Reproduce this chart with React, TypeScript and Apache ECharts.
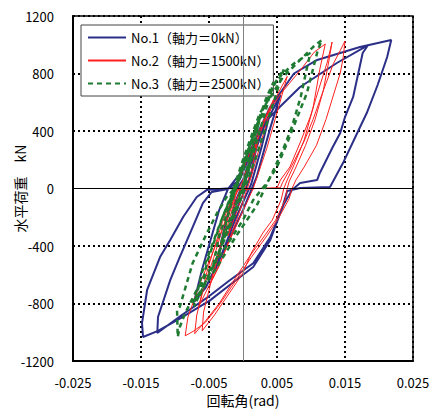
import React, { useEffect, useRef } from "react";
import * as echarts from "echarts";

const FONT = "'Noto Sans CJK JP', 'Noto Sans', sans-serif";

const seriesNames = ["No.1（軸力＝0kN）", "No.2（軸力＝1500kN）", "No.3（軸力＝2500kN）"];
const seriesColors = ["#2b2f88", "#ff2020", "#1f7a32"];

const xTicks = [-0.025, -0.015, -0.005, 0.005, 0.015, 0.025];
const yTicks = [-1200, -800, -400, 0, 400, 800, 1200];

// No.1 (rad, kN)
const no1Points: number[][] = [
  [0, 0],
  [0.001, 150], [0.002, 290], [0.0012, 100], [0.0004, 0], [-0.001, -150], [-0.002, -300], [-0.0012, -100], [-0.0003, 0],
  [0.0015, 220], [0.003, 420], [0.004, 530], [0.0028, 300], [0.0012, 30], [-0.001, -200], [-0.003, -440], [-0.004, -560], [-0.003, -330], [-0.0015, -40], [0, 60],
  [0.0015, 260], [0.003, 420], [0.0055, 650], [0.004, 420], [0.002, 80], [0, -150], [-0.003, -450], [-0.0055, -690], [-0.0072, -790], [-0.006, -560], [-0.0035, -150], [-0.0022, -3],
  [-0.0005, 100], [0.001, 260], [0.003, 450], [0.0054, 567], [0.0084, 706], [0.0138, 873], [0.0184, 998],
  [0.0176, 943], [0.0162, 637], [0.015, 497], [0.0143, 386], [0.0132, 289], [0.0113, 108], [0.0109, 59], [0.0084, 38], [0.0072, -10],
  [0.006, -110], [0.004, -340], [0.0015, -520], [-0.002, -640], [-0.005, -750], [-0.009, -880], [-0.0126, -1005],
  [-0.0125, -894], [-0.0107, -637], [-0.0093, -477], [-0.0074, -268], [-0.0059, -101], [-0.0046, -24], [-0.0022, -3],
  [-0.0005, 60], [0.001, 230], [0.0025, 420], [0.004, 567], [0.0075, 800], [0.0109, 894], [0.0172, 984], [0.0218, 1033],
  [0.0212, 915], [0.0198, 720], [0.0182, 525], [0.0168, 386], [0.0147, 177], [0.0128, 10], [0.0084, 3], [0.0065, -17],
  [0.0058, -130], [0.004, -360], [0.0015, -546], [-0.0019, -670], [-0.0049, -780], [-0.0093, -905], [-0.0125, -990], [-0.0147, -1033],
  [-0.01485, -936], [-0.0141, -706], [-0.0122, -477], [-0.0107, -358], [-0.0088, -198], [-0.0068, -59], [-0.0053, -10], [-0.0015, 3], [0, 0],
];

// No.2
const no2Points: number[][] = [
  [0, 0],
  [0.001, 170], [0.0022, 330], [0.0012, 120], [0.0003, 0], [-0.001, -170], [-0.0022, -330], [-0.0012, -110], [-0.0003, 0],
  [0.0015, 250], [0.0035, 520], [0.0045, 620], [0.003, 380], [0.0012, 80], [-0.001, -230], [-0.0035, -540], [-0.0048, -660], [-0.0035, -420], [-0.0015, -90], [0, 60],
  [0.002, 330], [0.004, 560], [0.0065, 780], [0.0052, 560], [0.0035, 280], [0.0015, 0], [-0.001, -260], [-0.004, -580], [-0.0065, -820], [-0.0052, -560], [-0.003, -230], [-0.001, 0],
  [0.001, 250], [0.003, 470], [0.0054, 650], [0.0088, 845], [0.0105, 950], [0.0121, 1005],
  [0.0113, 830], [0.0103, 560], [0.009, 337], [0.0075, 164], [0.0065, 59], [0.006, 0], [0.0056, -80], [0.0043, -220], [0.0029, -310], [0.0012, -450], [0, -588], [-0.0024, -755], [-0.0042, -880], [-0.006, -990],
  [-0.0058, -860], [-0.0047, -650], [-0.0036, -470], [-0.0024, -280], [-0.0014, -110], [-0.0009, -10], [0.002, 0], [0.005, 3],
  [0.0055, 59], [0.0069, 150], [0.0085, 330], [0.0099, 500], [0.0112, 700], [0.0124, 880], [0.0131, 1019],
  [0.0126, 880], [0.0118, 680], [0.0106, 480], [0.0092, 300], [0.0078, 150], [0.0068, 50], [0.0065, 0], [0.0062, -80], [0.0048, -220], [0.0033, -320], [0.001, -470], [-0.0015, -650], [-0.0035, -800], [-0.0055, -920], [-0.0071, -1010],
  [-0.0068, -880], [-0.0056, -660], [-0.0043, -480], [-0.003, -280], [-0.0018, -100], [-0.0011, -5], [0.002, 0], [0.0055, 5],
  [0.0058, 40], [0.0072, 160], [0.009, 330], [0.0103, 480], [0.0118, 680], [0.0133, 870], [0.0143, 960], [0.015, 1026],
  [0.0147, 900], [0.0143, 803], [0.0133, 650], [0.0122, 480], [0.0108, 300], [0.009, 150], [0.0078, 60], [0.0072, 0], [0.0068, -70], [0.0053, -200], [0.0035, -330], [0.0012, -480], [-0.0012, -650], [-0.0035, -810], [-0.0055, -930], [-0.0072, -990], [-0.0085, -1025],
  [-0.0081, -894], [-0.0063, -657], [-0.0049, -497], [-0.0031, -289], [-0.0016, -115], [-0.0009, -10], [0.001, 0],
];

// No.3
const no3Points: number[][] = [
  [0, 0],
  [0.0005, 120], [0.0015, 320], [0.0008, 120], [-0.0005, -50], [-0.002, -220], [-0.0032, -380], [-0.0024, -220], [-0.0012, -20],
  [0, 150], [0.001, 300], [0.0025, 500], [0.0015, 280], [0, 0], [-0.002, -260], [-0.0045, -560], [-0.0035, -330], [-0.0015, -60],
  [0, 170], [0.0015, 370], [0.0035, 640], [0.0045, 740], [0.0032, 520], [0.001, 160], [-0.002, -250], [-0.004, -500], [-0.0065, -760], [-0.0052, -500], [-0.003, -200], [-0.0012, 0],
  [0.0005, 220], [0.002, 420], [0.0045, 720], [0.006, 830], [0.0045, 600], [0.002, 230], [-0.001, -160], [-0.004, -500], [-0.0072, -820], [-0.006, -580], [-0.0035, -260], [-0.0015, -20],
  [0, 200], [0.0015, 400], [0.0025, 525], [0.0059, 776], [0.0084, 894], [0.0103, 984], [0.0116, 1033],
  [0.011, 963], [0.0094, 664], [0.0084, 546], [0.0065, 317], [0.005, 150], [0.0035, 38], [0.0015, -80], [0, -219], [-0.0019, -358], [-0.0038, -497], [-0.0053, -588], [-0.0068, -706], [-0.0085, -866], [-0.0093, -964], [-0.0096, -1033],
  [-0.0097, -845], [-0.0093, -824], [-0.0074, -518], [-0.0053, -310], [-0.0038, -170], [-0.0024, -59], [-0.0009, 17],
  [0.001, 250], [0.003, 560], [0.005, 760], [0.0075, 870], [0.0099, 943],
  [0.0095, 860], [0.0085, 640], [0.0072, 430], [0.0058, 260], [0.004, 80], [0.002, -120], [-0.001, -330], [-0.004, -560], [-0.0075, -800],
];

const xAxisName = "回転角(rad)";
const yAxisName = "水平荷重　kN";

export default function App() {
  const ref = useRef<HTMLDivElement>(null);
  useEffect(() => {
    if (!ref.current) return;
    const chart = echarts.init(ref.current, undefined, { renderer: "svg" });
    const mkSeries = (i: number, data: number[][], width: number, type: any) => ({
      name: seriesNames[i],
      type: "line",
      data,
      symbol: "none",
      showSymbol: false,
      smooth: false,
      z: 3 + i,
      lineStyle: { color: seriesColors[i], width, type },
      itemStyle: { color: seriesColors[i] },
    });
    chart.setOption({
      animation: false,
      backgroundColor: "#fff",
      textStyle: { fontFamily: FONT },
      grid: {
        left: 73,
        top: 16,
        right: 27,
        bottom: 49,
        containLabel: false,
        outerBoundsMode: "none",
        show: true,
        borderColor: "#000",
        borderWidth: 1.5,
        backgroundColor: "#fff",
      },
      legend: {
        data: seriesNames,
        orient: "vertical",
        left: 81,
        top: 25,
        padding: [6, 4, 6, 6],
        itemGap: 10,
        itemWidth: 38,
        itemHeight: 14,
        backgroundColor: "#fff",
        borderColor: "#444",
        borderWidth: 1,
        borderRadius: 0,
        itemStyle: { opacity: 0, color: "rgba(0,0,0,0)", borderColor: "rgba(0,0,0,0)", borderWidth: 0 },
        textStyle: { fontSize: 13, color: "#000", fontFamily: FONT },
      },
      xAxis: {
        type: "value",
        min: xTicks[0],
        max: xTicks[xTicks.length - 1],
        interval: 0.01,
        name: xAxisName,
        nameLocation: "middle",
        nameGap: 31,
        nameMoveOverlap: false,
        nameTextStyle: { fontSize: 14, lineHeight: 15, color: "#000", fontFamily: FONT },
        axisLine: { show: true, onZero: false, lineStyle: { color: "#000", width: 2 } },
        axisTick: { show: false },
        axisLabel: {
          fontSize: 13,
          color: "#000",
          margin: 15,
          fontFamily: FONT,
          formatter: (v: number) => v.toFixed(3),
        },
        splitLine: { show: true, lineStyle: { color: "#000", width: 2, type: [2, 3] } },
      },
      yAxis: {
        type: "value",
        min: yTicks[0],
        max: yTicks[yTicks.length - 1],
        interval: 400,
        name: yAxisName,
        nameLocation: "middle",
        nameGap: 46,
        nameMoveOverlap: false,
        nameTextStyle: { fontSize: 14, color: "#000", fontFamily: FONT },
        axisLine: { show: true, onZero: false, lineStyle: { color: "#000", width: 2 } },
        axisTick: { show: false },
        axisLabel: {
          fontSize: 13,
          color: "#000",
          margin: 19,
          fontFamily: FONT,
          formatter: (v: number) => String(v),
        },
        splitLine: {
          show: true,
          lineStyle: {
            color: ["#000", "#000", "#000", "rgba(0,0,0,0)", "#000", "#000", "#000"],
            width: 2,
            type: [2, 3],
          },
        },
      },
      series: [
        {
          name: "zero",
          type: "line",
          data: [],
          z: 1,
          markLine: {
            silent: true,
            symbol: "none",
            label: { show: false },
            data: [
              { xAxis: 0, lineStyle: { color: "#808080", width: 1, type: "solid" } },
              { yAxis: 0, lineStyle: { color: "#000", width: 1, type: "solid" } },
            ],
          },
        },
        mkSeries(0, no1Points, 2, "solid"),
        mkSeries(1, no2Points, 1, "solid"),
        mkSeries(2, no3Points, 2.5, [5, 4]),
      ],
    });
    return () => chart.dispose();
  }, []);
  return (
    <div
      ref={ref}
      style={{ position: "fixed", left: 0, top: 0, width: 440, height: 410, background: "#fff" }}
    />
  );
}
